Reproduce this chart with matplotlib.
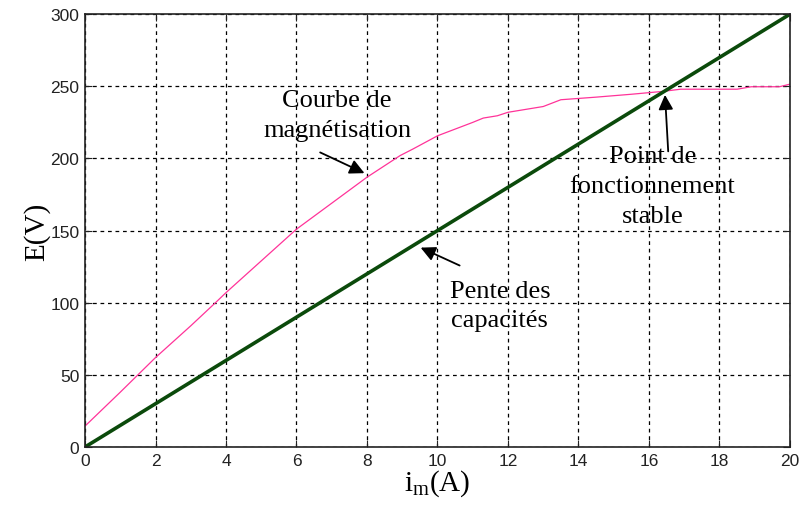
import matplotlib.pyplot as plt
import numpy as np

# magnetisation curve
im_mag = [0, 1, 1.5, 2, 3, 3.7, 4, 5, 6, 7, 8, 8.94, 9.3, 10, 11, 11.3, 11.7, 12, 13, 13.5,
          14.5, 15.5, 16.4, 16.9, 17.5, 18.5, 18.9, 19.7, 20]
E_mag = [14.5, 38, 50, 62, 84, 100, 107, 129, 151, 169, 187, 202, 206.5, 215.7, 225, 228,
         229.6, 232, 236, 240.7, 242.5, 244.5, 246.5, 248, 248, 248, 249.7, 249.7, 251.5]

# capacitor line
im_cap = [0, 20]
E_cap = [0, 300]

plt.rcParams['font.family'] = 'Liberation Sans'

fig = plt.figure(figsize=(8.02, 5.06), dpi=100)
ax = fig.add_axes([0.106, 0.1146, 0.879, 0.8554])

ax.plot(im_mag, E_mag, color='#ff3399', linewidth=0.9)
ax.plot(im_cap, E_cap, color='#0b4a0b', linewidth=2.6)

ax.set_xlim(0, 20)
ax.set_ylim(0, 300)
ax.set_xticks(np.arange(0, 21, 2))
ax.set_yticks(np.arange(0, 301, 50))
ax.grid(True, color='black', linestyle=(0, (3, 3)), linewidth=0.9)
ax.tick_params(direction='in', length=5, top=True, right=True, labelsize=12.5,
               colors='#222222', pad=4)
for s in ax.spines.values():
    s.set_linewidth(1.2)
    s.set_color('#222222')

serif = 'Liberation Serif'
ax.set_ylabel('E(V)', fontsize=21, family=serif, labelpad=0)
ax.set_xlabel(r'i$_{\mathregular{m}}$(A)', fontsize=21, family=serif, labelpad=0)

arrow = dict(arrowstyle='-|>', color='black', lw=1.3, mutation_scale=22)
txt = dict(fontsize=19, family=serif, ha='center', va='center', linespacing=1.45)

ax.annotate('', xy=(8.0, 189), xytext=(6.6, 205), arrowprops=arrow)
ax.text(7.15, 230, 'Courbe de\nmagnétisation', **txt)

ax.annotate('', xy=(9.45, 139), xytext=(10.7, 125), arrowprops=arrow)
ax.text(11.77, 98, 'Pente des\ncapacités', **txt)

ax.annotate('', xy=(16.45, 246), xytext=(16.55, 203), arrowprops=arrow)
ax.text(16.1, 181, 'Point de\nfonctionnement\nstable', **txt)

fig.savefig('out.png', dpi=100)
